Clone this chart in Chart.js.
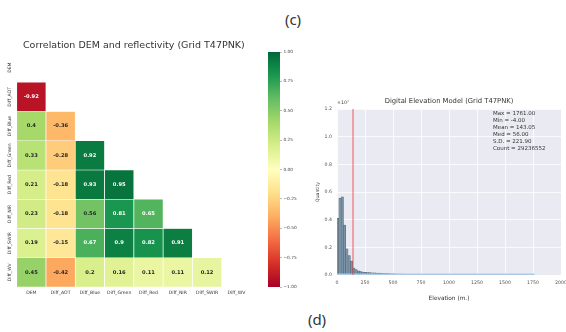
<!DOCTYPE html>
<html>
<head>
<meta charset="utf-8">
<script src="https://cdn.jsdelivr.net/npm/chart.js@4.4.1/dist/chart.umd.min.js"></script>
<style>
  html, body { margin: 0; padding: 0; background: #fff; }
  body { width: 566px; height: 332px; position: relative; overflow: hidden; font-family: "DejaVu Sans", sans-serif; }
  canvas { position: absolute; }
  .tag { position: absolute; font-family: "Noto Sans", sans-serif; font-size: 15px; color: #333; line-height: 1; transform: translate(-50%, -50%); white-space: nowrap; }
</style>
</head>
<body>
<div class="tag" style="left:293px; top:19px">(c)</div>
<canvas id="heat" width="262" height="272" style="left:0; top:30px"></canvas>
<canvas id="cbar" width="38" height="250" style="left:262px; top:45px"></canvas>
<canvas id="hist" width="266" height="215" style="left:300px; top:90px"></canvas>
<div class="tag" style="left:317px; top:319px">(d)</div>
<script>
// ---- correlation matrix (lower triangle, row i vs. variables 0..i-1) ----
const variables = ['DEM', 'Diff_AOT', 'Diff_Blue', 'Diff_Green', 'Diff_Red', 'Diff_NIR', 'Diff_SWIR', 'Diff_WV'];
const corrDEM   = [];
const corrAOT   = [-0.92];
const corrBlue  = [0.4, -0.36];
const corrGreen = [0.33, -0.28, 0.92];
const corrRed   = [0.21, -0.18, 0.93, 0.95];
const corrNIR   = [0.23, -0.18, 0.56, 0.81, 0.65];
const corrSWIR  = [0.19, -0.15, 0.67, 0.9, 0.82, 0.91];
const corrWV    = [0.45, -0.42, 0.2, 0.16, 0.11, 0.11, 0.12];
const corrRows  = [corrDEM, corrAOT, corrBlue, corrGreen, corrRed, corrNIR, corrSWIR, corrWV];
const colorbarTicks = [-1, -0.75, -0.5, -0.25, 0, 0.25, 0.5, 0.75, 1];

// ---- elevation histogram (counts in units of 1e7 per bin, Min..Max) ----
const elevationCounts = [
  0.41, 0.555, 0.565, 0.36, 0.19, 0.14, 0.10, 0.05,
  0.04, 0.03, 0.025, 0.022, 0.02, 0.018, 0.017, 0.016, 0.015, 0.014,
  0.013, 0.012, 0.011, 0.010, 0.010, 0.009, 0.009, 0.008, 0.007, 0.007,
  0.006, 0.005, 0.005, 0.004, 0.004, 0.003, 0.003, 0.003,
  0.002, 0.002, 0.002, 0.002, 0.002, 0.002, 0.002, 0.002, 0.002, 0.002,
  0.002, 0.002, 0.002, 0.002, 0.002, 0.002, 0.002, 0.002, 0.002, 0.002,
  0.001, 0.001, 0.001, 0.001, 0.001, 0.001, 0.001, 0.001, 0.001, 0.001,
  0.001, 0.001, 0.001, 0.001, 0.001, 0.001, 0.001, 0.001, 0.001, 0.001,
  0.001, 0.001, 0.001, 0.001, 0.001, 0.001, 0.001, 0.001, 0.001, 0.001
];
const statMax = 1761.00;
const statMin = -4.00;
const statMean = 143.05;
const statMed = 56.00;
const statSD = 221.90;
const statCount = 29236552;
const elevationTicks = [0, 250, 500, 750, 1000, 1250, 1500, 1750, 2000];
const quantityTicks = [0, 0.2, 0.4, 0.6, 0.8, 1.0, 1.2];

Chart.defaults.font.family = '"DejaVu Sans", sans-serif';
Chart.defaults.animation = false;
Chart.defaults.events = [];

// RdYlGn colormap
const RDYLGN = ['#a50026', '#d73027', '#f46d43', '#fdae61', '#fee08b', '#ffffbf',
                '#d9ef8b', '#a6d96a', '#66bd63', '#1a9850', '#006837'];
const hexRgb = h => [1, 3, 5].map(i => parseInt(h.substr(i, 2), 16));
function cmapRgb(v) {
  const t = Math.min(1, Math.max(0, (v + 1) / 2)) * (RDYLGN.length - 1);
  const i = Math.min(RDYLGN.length - 2, Math.floor(t));
  const f = t - i;
  const a = hexRgb(RDYLGN[i]), b = hexRgb(RDYLGN[i + 1]);
  return a.map((c, k) => Math.round(c + (b[k] - c) * f));
}
const rgbStr = c => `rgb(${c[0]},${c[1]},${c[2]})`;
function annotColor(v) {
  const lin = cmapRgb(v).map(c => { c /= 255; return c <= 0.03928 ? c / 12.92 : Math.pow((c + 0.055) / 1.055, 2.4); });
  const lum = 0.2126 * lin[0] + 0.7152 * lin[1] + 0.0722 * lin[2];
  return lum > 0.408 ? '#262626' : '#ffffff';
}

// ---------------- heatmap ----------------
const heatDatasets = corrRows.map((vals, r) => ({
  label: variables[r],
  corr: vals,
  data: variables.map((_, c) => c < vals.length ? [r, r + 1] : null),
  backgroundColor: variables.map((_, c) => c < vals.length ? rgbStr(cmapRgb(vals[c])) : 'rgba(0,0,0,0)'),
  borderColor: 'rgba(255,255,255,0.9)',
  borderWidth: 0.7,
  borderSkipped: false,
  barPercentage: 1,
  categoryPercentage: 1,
  grouped: false
}));

const heatDecor = {
  id: 'heatDecor',
  afterDatasetsDraw(chart) {
    const ctx = chart.ctx;
    ctx.save();
    ctx.font = 'bold 5.2px "DejaVu Sans"';
    ctx.textAlign = 'center';
    ctx.textBaseline = 'middle';
    chart.data.datasets.forEach((ds, di) => {
      const meta = chart.getDatasetMeta(di);
      ds.corr.forEach((v, c) => {
        const p = meta.data[c].getProps(['x', 'y', 'base'], true);
        ctx.fillStyle = annotColor(v);
        ctx.fillText(String(v), p.x, (p.y + p.base) / 2);
      });
    });
    ctx.restore();
  },
  afterDraw(chart) {
    const ctx = chart.ctx, a = chart.chartArea, ys = chart.scales.y;
    ctx.save();
    ctx.fillStyle = '#333';
    ctx.textAlign = 'center';
    ctx.textBaseline = 'middle';
    ctx.font = '9.5px "DejaVu Sans"';
    ctx.fillText('Correlation DEM and reflectivity (Grid T47PNK)', (a.left + a.right) / 2, a.top - 7);
    ctx.font = '4.6px "DejaVu Sans"';
    variables.forEach((name, i) => {
      ctx.save();
      ctx.translate(10, ys.getPixelForValue(i + 0.5));
      ctx.rotate(-Math.PI / 2);
      ctx.fillText(name, 0, 0);
      ctx.restore();
    });
    ctx.restore();
  }
};

new Chart(document.getElementById('heat'), {
  type: 'bar',
  data: { labels: variables, datasets: heatDatasets },
  options: {
    responsive: false,
    layout: { padding: { left: 16.7, right: 11, top: 23, bottom: 0 } },
    plugins: { legend: { display: false }, tooltip: { enabled: false }, title: { display: false } },
    scales: {
      x: {
        type: 'category',
        grid: { display: false, drawTicks: false },
        border: { display: false },
        ticks: { font: { size: 4.6 }, color: '#333', padding: 3, maxRotation: 0, autoSkip: false },
        afterFit: s => { s.height = 15; }
      },
      y: { type: 'linear', min: 0, max: 8, reverse: true, display: false }
    }
  },
  plugins: [heatDecor]
});

// ---------------- colorbar ----------------
new Chart(document.getElementById('cbar'), {
  type: 'bar',
  data: {
    labels: [''],
    datasets: [{
      data: [[colorbarTicks[0], colorbarTicks[colorbarTicks.length - 1]]],
      backgroundColor: c => {
        const a = c.chart.chartArea;
        if (!a) return '#ffffbf';
        const g = c.chart.ctx.createLinearGradient(0, a.bottom, 0, a.top);
        RDYLGN.forEach((col, i) => g.addColorStop(i / (RDYLGN.length - 1), col));
        return g;
      },
      borderWidth: 0,
      barPercentage: 1,
      categoryPercentage: 1
    }]
  },
  options: {
    responsive: false,
    layout: { padding: { left: 6, right: 0, top: 7, bottom: 8 } },
    plugins: { legend: { display: false }, tooltip: { enabled: false } },
    scales: {
      x: { display: false },
      y: {
        position: 'right',
        min: -1, max: 1,
        afterBuildTicks: s => { s.ticks = colorbarTicks.map(v => ({ value: v })); },
        ticks: {
          font: { size: 4.3 }, color: '#444', padding: 1.5,
          callback: (v, i) => (colorbarTicks[i] < 0 ? '\u2212' : '') + Math.abs(colorbarTicks[i]).toFixed(2)
        },
        grid: { drawOnChartArea: false, drawTicks: true, tickLength: 2, color: '#777', lineWidth: 0.5 },
        border: { display: false },
        afterFit: s => { s.width = 20; }
      }
    }
  }
});

// ---------------- histogram ----------------
const binWidth = (statMax - statMin) / elevationCounts.length;
const histPoints = elevationCounts.map((v, i) => ({ x: statMin + (i + 0.5) * binWidth, y: v }));
const statLines = [
  'Max = ' + statMax.toFixed(2),
  'Min = ' + statMin.toFixed(2),
  'Mean = ' + statMean.toFixed(2),
  'Med = ' + statMed.toFixed(2),
  'S.D. = ' + statSD.toFixed(2),
  'Count = ' + statCount
];

const histDecor = {
  id: 'histDecor',
  beforeDraw(chart) {
    const ctx = chart.ctx, a = chart.chartArea;
    ctx.save();
    ctx.fillStyle = '#eaeaf2';
    ctx.fillRect(a.left, a.top, a.right - a.left, a.bottom - a.top);
    ctx.restore();
  },
  afterDatasetsDraw(chart) {
    const ctx = chart.ctx, a = chart.chartArea, xs = chart.scales.x, ys = chart.scales.y;
    ctx.save();
    // thin strip along the bottom covering the data range
    ctx.strokeStyle = '#a9cbe6';
    ctx.lineWidth = 1.6;
    const y0 = ys.getPixelForValue(0) - 0.8;
    ctx.beginPath();
    ctx.moveTo(Math.max(a.left, xs.getPixelForValue(statMin)), y0);
    ctx.lineTo(xs.getPixelForValue(statMax), y0);
    ctx.stroke();
    // mean marker
    const xm = xs.getPixelForValue(statMean);
    ctx.strokeStyle = 'rgba(240,70,70,0.65)';
    ctx.lineWidth = 1.4;
    ctx.beginPath();
    ctx.moveTo(xm, a.top);
    ctx.lineTo(xm, a.bottom);
    ctx.stroke();
    ctx.restore();
  },
  afterDraw(chart) {
    const ctx = chart.ctx, a = chart.chartArea;
    ctx.save();
    ctx.fillStyle = '#333';
    ctx.textBaseline = 'middle';
    ctx.textAlign = 'center';
    ctx.font = '6.8px "DejaVu Sans"';
    ctx.fillText('Digital Elevation Model (Grid T47PNK)', (a.left + a.right) / 2, 11);
    ctx.font = '5.8px "DejaVu Sans"';
    ctx.fillText('Elevation (m.)', (a.left + a.right) / 2, 208);
    ctx.font = '4.6px "DejaVu Sans"';
    ctx.save();
    ctx.translate(18, (a.top + a.bottom) / 2);
    ctx.rotate(-Math.PI / 2);
    ctx.fillText('Quantity', 0, 0);
    ctx.restore();
    ctx.textAlign = 'left';
    ctx.fillStyle = '#444';
    ctx.font = '4.8px "DejaVu Sans"';
    ctx.fillText('\u00d710\u2077', a.left, 13);
    ctx.fillStyle = '#333';
    ctx.font = '5.5px "DejaVu Sans"';
    statLines.forEach((t, i) => ctx.fillText(t, 193, 24 + i * 6.9));
    ctx.restore();
  }
};

new Chart(document.getElementById('hist'), {
  type: 'bar',
  data: {
    datasets: [{
      data: histPoints,
      backgroundColor: '#7b93a6',
      borderColor: '#4a5e6e',
      borderWidth: 0.5,
      borderSkipped: 'start',
      barPercentage: 1,
      categoryPercentage: 1
    }]
  },
  options: {
    responsive: false,
    layout: { padding: { left: 0, right: 5, top: 19, bottom: 0 } },
    plugins: { legend: { display: false }, tooltip: { enabled: false } },
    scales: {
      x: {
        type: 'linear',
        min: 0, max: 2000,
        offset: false,
        afterBuildTicks: s => { s.ticks = elevationTicks.map(v => ({ value: v })); },
        ticks: { font: { size: 4.7 }, color: '#555', padding: 5, maxRotation: 0, autoSkip: false, callback: (v, i) => String(elevationTicks[i]) },
        grid: { color: '#ffffff', lineWidth: 0.8, drawTicks: false, offset: false },
        border: { display: false },
        afterFit: s => { s.height = 30; s.paddingLeft = 0; s.paddingRight = 0; }
      },
      y: {
        min: 0, max: 1.2,
        afterBuildTicks: s => { s.ticks = quantityTicks.map(v => ({ value: v })); },
        ticks: { font: { size: 4.7 }, color: '#555', padding: 5, callback: (v, i) => quantityTicks[i].toFixed(1) },
        grid: { color: '#ffffff', lineWidth: 0.8, drawTicks: false },
        border: { display: false },
        afterFit: s => { s.width = 37; }
      }
    }
  },
  plugins: [histDecor]
});
</script>
</body>
</html>
